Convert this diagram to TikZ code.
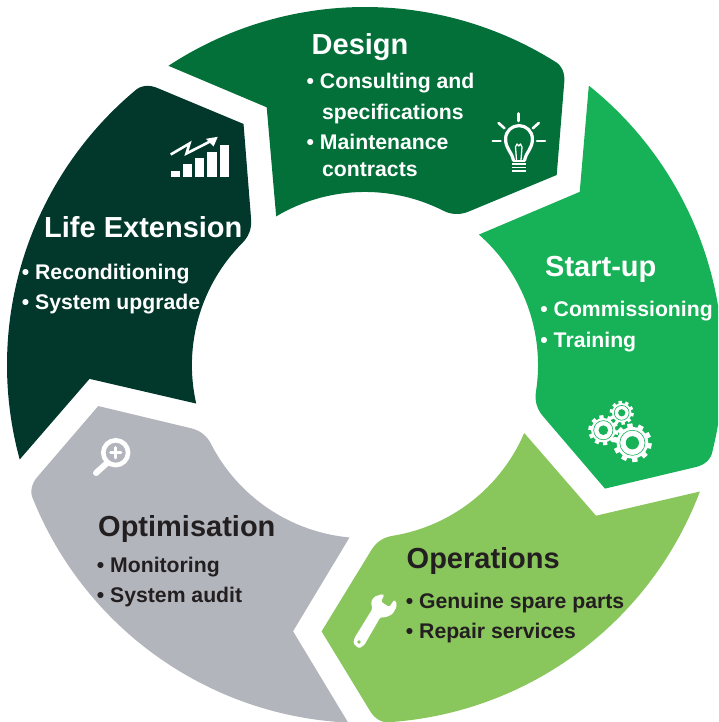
\documentclass[tikz,border=0pt]{standalone}
\usepackage{fontspec}
\setmainfont{Liberation Sans}[BoldFont={Liberation Sans Bold}]
\definecolor{cDesign}{HTML}{03703A}
\definecolor{cStart}{HTML}{17B157}
\definecolor{cOper}{HTML}{89C65B}
\definecolor{cOpti}{HTML}{B3B5BC}
\definecolor{cLife}{HTML}{02382B}
\definecolor{cInk}{HTML}{231F20}
\tikzset{
  titletext/.style={anchor=base west,inner sep=0pt,font=\fontsize{29}{30}\selectfont\bfseries},
  itemtext/.style={anchor=base west,inner sep=0pt,font=\fontsize{21.2}{24}\selectfont\bfseries},
  iconline/.style={draw=white,line cap=round,line join=round},
}
% one petal of the ring, drawn with y up around the centre of the ring
\newcommand{\petal}[2]{%
  \begin{scope}[shift={(365,365)},y=1pt,rotate=#1]
    \fill[#2] (123.3:358pt) arc[start angle=123.3,end angle=58,radius=358pt]
      .. controls (197,299.8) and (200,291.3) .. (199.3,283.3)
      -- (191.7,190) -- (103.3,153.3)
      .. controls (94.1,149.5) and (85.4,150.7) .. (78.3,154.3)
      arc[start angle=63.1,end angle=120.8,radius=173.3pt]
      -- (-98.3,257.7) -- cycle;
  \end{scope}}
% gear: x, y, tip radius, body radius, ring radius, hole radius, colour
\newcommand{\gearicon}[7]{%
  \begin{scope}[shift={(#1,#2)}]
    \fill[white] (0,0) circle[radius=#4pt];
    \foreach \a in {0,36,...,324}
      \draw[white,line width=0.28*#3pt] (\a+10:#4-1) -- (\a+10:#3);
    \draw[#7,line width=0.6pt] (0,0) circle[radius=#5pt];
    \fill[#7] (0,0) circle[radius=#6pt];
  \end{scope}}
\begin{document}
\begin{tikzpicture}[x=1pt,y=-1pt]
\useasboundingbox (0,0) rectangle (718,722);
\clip (0,0) rectangle (718,722);
\petal{0}{cDesign}
\petal{-72}{cStart}
\petal{-144}{cOper}
\petal{-216}{cOpti}
\petal{-288}{cLife}
% Design
\node[titletext,text=white] (t1) at (311.5,55) {Design};
\node[itemtext,text=white] (a1) at (306.5,89) {• Consulting and};
\node[itemtext,text=white] (a2) at (322,120) {specifications};
\node[itemtext,text=white] (a3) at (306.5,149.5) {• Maintenance};
\node[itemtext,text=white] (a4) at (322,176) {contracts};
% Start-up
\node[titletext,text=white] (t2) at (545,276) {Start-up};
\node[itemtext,text=white] (b1) at (540.2,316.7) {• Commissioning};
\node[itemtext,text=white] (b2) at (540.2,347.7) {• Training};
% Operations
\node[titletext,text=cInk] (t3) at (406.5,568.3) {Operations};
\node[itemtext,text=cInk] (c1) at (405.7,608.3) {• Genuine spare parts};
\node[itemtext,text=cInk] (c2) at (405.7,638.3) {• Repair services};
% Optimisation
\node[titletext,text=cInk] (t4) at (98,536) {Optimisation};
\node[itemtext,text=cInk] (d1) at (96.7,572.7) {• Monitoring};
\node[itemtext,text=cInk] (d2) at (96.7,602.7) {• System audit};
% Life Extension
\node[titletext,text=white] (t5) at (44,237.7) {Life Extension};
\node[itemtext,text=white] (e1) at (21.7,279) {• Reconditioning};
\node[itemtext,text=white] (e2) at (21.7,309.3) {• System upgrade};
% light bulb
\draw[iconline,line width=2.6pt] (518.7,113.5) -- (518.7,121);
\draw[iconline,line width=2.6pt] (492.8,141) -- (500.5,141);
\draw[iconline,line width=2.6pt] (537,141) -- (545,141);
\draw[iconline,line width=2.6pt] (498.6,123) -- (504.5,128.3);
\draw[iconline,line width=2.6pt] (538.8,123) -- (532.8,128.3);
\draw[iconline,line width=3.2pt] (513.5,160.5)
  .. controls (511.5,151) and (505.6,149) .. (505.6,139)
  .. controls (505.6,131) and (512,125.6) .. (519,125.6)
  .. controls (526,125.6) and (532.4,131) .. (532.4,139)
  .. controls (532.4,149) and (526.5,151) .. (524.5,160.5);
\draw[draw=white,line width=1.3pt,line join=round] (516.5,160) -- (515.5,147) -- (517,144) -- (518.7,146) -- (520.5,144) -- (522,147) -- (521,160);
\fill[white] (513,160) rectangle (525,162);
\fill[white] (512,163.4) rectangle (526,165.4);
\fill[white] (512,166.6) rectangle (526,168.4);
\fill[white] (512,169.6) rectangle (526,171.6);
% chart
\fill[white] (170.7,170.7) rectangle (180,176.7);
\fill[white] (183,164.3) rectangle (192.3,176.7);
\fill[white] (195,157.7) rectangle (204.3,176.7);
\fill[white] (207.3,151.7) rectangle (216.7,176.7);
\fill[white] (219.7,145.3) rectangle (229,176.7);
\draw[draw=white,line width=2.6pt,line join=miter] (170.7,154.5) -- (189.5,143.5) -- (186.5,153.5) -- (211,141);
\fill[white] (206,138.8) -- (217.8,136.8) -- (213.6,146.4) -- cycle;
% magnifier
\draw[draw=white,line width=4.6pt] (115.7,452.7) circle[radius=12.4pt];
\draw[iconline,line width=2.8pt] (110.5,452.7) -- (121,452.7);
\draw[iconline,line width=2.8pt] (115.7,447.5) -- (115.7,458);
\draw[iconline,line width=6pt] (107,463) -- (96,473);
% wrench
\fill[white,rounded corners=1.5pt] (354.3,638.3) -- (372.3,609) -- (371,601.7) -- (374.3,596.7) -- (382.3,594) -- (384.3,595) -- (381,601.7) -- (389.3,607) -- (394,600) -- (396,601) -- (396.7,606.7) -- (392.3,614.3) -- (385.7,617.3) -- (380.3,617.3) -- (364.3,645) -- (359,648.5) -- (353.3,643.5) -- cycle;
\fill[cOper] (359,642) circle[radius=1.8pt];
% gears
\gearicon{632.4}{442.8}{19.3}{15.8}{12.6}{6.6}{cStart}
\gearicon{603.3}{430.2}{15}{12.2}{9.6}{4.8}{cStart}
\gearicon{621.7}{412.8}{12}{9.7}{7.4}{3.6}{cStart}
\end{tikzpicture}
\end{document}
